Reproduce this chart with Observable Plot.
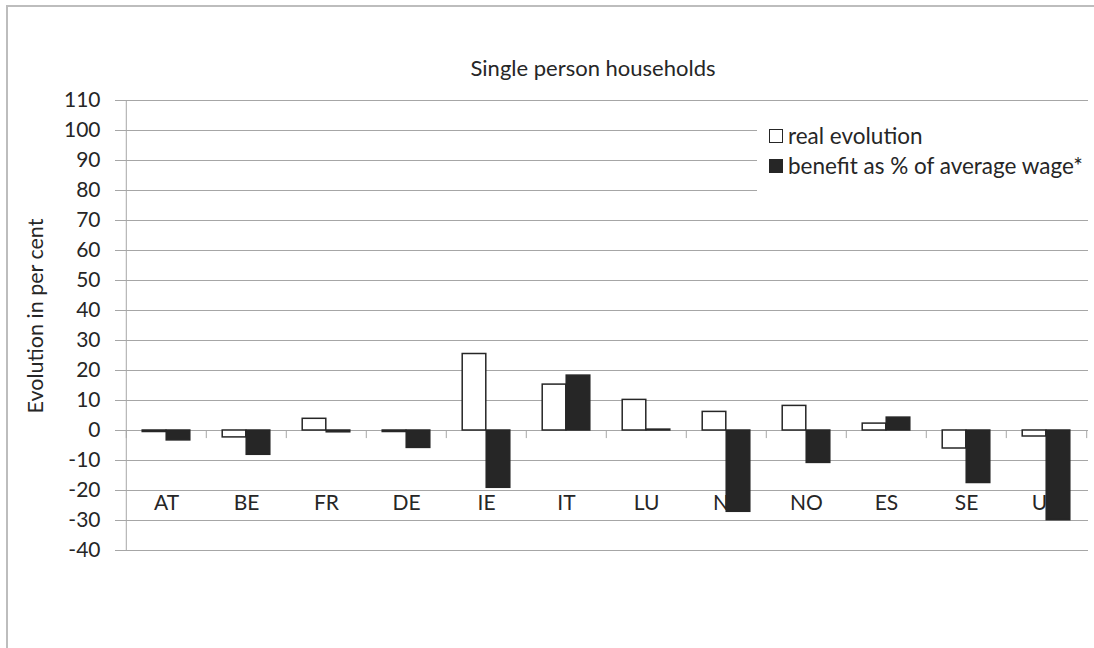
<!DOCTYPE html>
<html>
<head>
<meta charset="utf-8">
<script src="https://cdn.jsdelivr.net/npm/d3@7"></script>
<script src="https://cdn.jsdelivr.net/npm/@observablehq/plot@0.6"></script>
<style>
  html, body { margin: 0; padding: 0; background: #fff; }
  #wrap { position: relative; width: 1094px; height: 648px; overflow: hidden; font-family: Lato, "Open Sans", sans-serif; color: #262626; }
  #border { position: absolute; left: 6px; top: 5px; width: 1090px; height: 660px; border-top: 2px solid #bdbdbd; border-left: 2px solid #bdbdbd; }
  #title { position: absolute; left: 0; width: 1186px; top: 54px; text-align: center; font-size: 22px; }
  #ylabel { position: absolute; left: 35px; top: 316px; transform: translate(-50%, -50%) rotate(-90deg); white-space: nowrap; font-size: 21.5px; }
  #legend { position: absolute; left: 757px; top: 116px; width: 331px; height: 84px; background: #fff; font-size: 22.5px; }
  .item { position: absolute; left: 12px; display: flex; align-items: center; white-space: nowrap; }
  .sw { width: 14px; height: 14px; margin-right: 5px; box-sizing: border-box; border: 1.5px solid #262626; }
  svg { position: absolute; left: 0; top: 0; }
</style>
</head>
<body>
<div id="wrap">
  <div id="border"></div>
  <div id="title">Single person households</div>
  <div id="ylabel">Evolution in per cent</div>
</div>
<script>
// Countries along the category axis
const countries = ["AT", "BE", "FR", "DE", "IE", "IT", "LU", "NL", "NO", "ES", "SE", "UK"];
// Real evolution of the benefit, per cent
const realEvolution = [-0.5, -2.3, 3.9, -0.5, 25.5, 15.3, 10.2, 6.2, 8.2, 2.3, -6.0, -2.0];
// Evolution of the benefit as % of the average wage, per cent
const benefitShare = [-3.3, -8.1, -0.6, -5.8, -19.1, 18.3, 0.3, -27.1, -10.8, 4.3, -17.5, -29.9];
// Value axis ticks
const yTicks = d3.range(-40, 111, 10);
// Series names shown in the legend
const seriesNames = ["real evolution", "benefit as % of average wage*"];

const rows = countries.map((c, i) => ({country: c, real: realEvolution[i], share: benefitShare[i]}));

const W = 1094, H = 648;
const mL = 123, mR = 6, mT = 100, mB = 98;
const band = (W - mL - mR) / countries.length;
const barW = 24;
const ink = "#262626";
const gridColor = "#a6a6a6";
const font = "Lato, 'Open Sans', sans-serif";

const chart = Plot.plot({
  width: W,
  height: H,
  marginLeft: mL,
  marginRight: mR,
  marginTop: mT,
  marginBottom: mB,
  style: {fontFamily: font, color: ink, background: "transparent"},
  x: {type: "band", domain: countries, padding: 0, label: null},
  y: {domain: [-40, 110], label: null},
  marks: [
    Plot.gridY(yTicks, {stroke: gridColor, strokeOpacity: 1, strokeWidth: 1}),
    // vertical value axis line
    Plot.ruleX(rows.slice(0, 1), {x: "country", y1: -40, y2: 110, dx: -band / 2, stroke: gridColor}),
    // category boundary ticks on the zero line
    Plot.ruleX(rows, {x: "country", y1: 0, y2: -2.7, dx: -band / 2, stroke: gridColor}),
    Plot.ruleX(rows.slice(-1), {x: "country", y1: 0, y2: -2.7, dx: band / 2, stroke: gridColor}),
    Plot.barY(rows, {
      x: "country", y: "real", fill: "#fff", stroke: ink, strokeWidth: 1.5,
      insetLeft: band / 2 - barW, insetRight: band / 2
    }),
    Plot.barY(rows, {
      x: "country", y: "share", fill: ink, stroke: ink, strokeWidth: 1.5,
      insetLeft: band / 2, insetRight: band / 2 - barW
    }),
    Plot.axisY(yTicks, {
      tickSize: 8, tickPadding: 15, stroke: gridColor, fill: ink, label: null,
      fontSize: 21, tickFormat: d => String(d)
    }),
    Plot.axisX({tickSize: 0, tickPadding: 0, dy: -55, fill: ink, label: null, fontSize: 21})
  ]
});

const wrap = document.getElementById("wrap");
wrap.insertBefore(chart, document.getElementById("title"));

// Legend box on top of the upper grid lines
const legend = document.createElement("div");
legend.id = "legend";
const swatches = [{fill: "#fff"}, {fill: ink}];
seriesNames.forEach((name, i) => {
  const item = document.createElement("div");
  item.className = "item";
  item.style.top = (6 + i * 30) + "px";
  const sw = document.createElement("span");
  sw.className = "sw";
  sw.style.background = swatches[i].fill;
  item.appendChild(sw);
  item.appendChild(document.createTextNode(name));
  legend.appendChild(item);
});
wrap.appendChild(legend);
</script>
</body>
</html>
